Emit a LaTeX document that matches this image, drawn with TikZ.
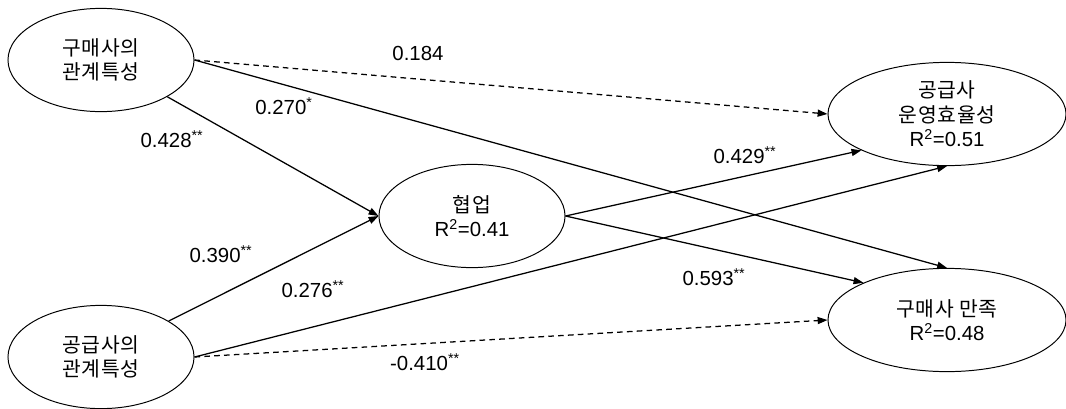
\documentclass[tikz,border=0pt]{standalone}
\usepackage{fontspec}
\setmainfont{Liberation Sans}
\newfontfamily\kr[LetterSpace=3]{Noto Sans CJK KR}
\usetikzlibrary{arrows.meta, shapes.geometric}
\tikzset{
  every picture/.style={font=\fontsize{14.5}{17.5}\selectfont, line width=0.9pt},
  latent/.style={draw, ellipse, align=center, inner sep=0pt, minimum width=4.65cm, minimum height=2.58cm, line width=0.7pt},
  arrow/.style={-{Triangle[length=7pt, width=5pt]}},
  dashedarrow/.style={arrow, dash pattern=on 4pt off 3pt},
  coef/.style={inner sep=1pt},
}
\begin{document}
\begin{tikzpicture}[x=0.025cm, y=-0.025cm]
  \useasboundingbox (0,0) rectangle (1066,408);
  % constructs
  \node[latent] (buyer) at (101,60) {{\kr 구매사의}\\{\kr 관계특성}};
  \node[latent] (supplier) at (101,357) {{\kr 공급사의}\\{\kr 관계특성}};
  \node[latent] (collab) at (472,216) {{\kr 협업}\\R\textsuperscript{2}=0.41};
  \node[latent, minimum width=5.95cm] (opeff) at (947,114) {{\kr 공급사}\\{\kr 운영효율성}\\R\textsuperscript{2}=0.51};
  \node[latent, minimum width=5.95cm] (sat) at (947,320) {{\kr 구매사 만족}\\R\textsuperscript{2}=0.48};
  % paths
  \draw[dashedarrow] (buyer.east) -- (opeff.west);
  \draw[arrow] (buyer.east) -- (sat.north);
  \draw[arrow] (buyer.-29) -- (collab.west);
  \draw[arrow] (supplier.28) -- (collab.west);
  \draw[arrow] (supplier.east) -- (opeff.south);
  \draw[dashedarrow] (supplier.east) -- (sat.west);
  \draw[arrow] (collab.east) -- (opeff.203);
  \draw[arrow] (collab.east) -- (sat.156);
  % coefficients
  \node[coef] (c184) at (418,53) {0.184};
  \node[coef] (c270) at (284,106) {0.270\textsuperscript{*}};
  \node[coef] (c428) at (172,139) {0.428\textsuperscript{**}};
  \node[coef] (c390) at (221,254) {0.390\textsuperscript{**}};
  \node[coef] (c276) at (313,289) {0.276\textsuperscript{**}};
  \node[coef] (c410) at (425,362) {-0.410\textsuperscript{**}};
  \node[coef] (c429) at (745,155) {0.429\textsuperscript{**}};
  \node[coef] (c593) at (714,277) {0.593\textsuperscript{**}};
\end{tikzpicture}
\end{document}
